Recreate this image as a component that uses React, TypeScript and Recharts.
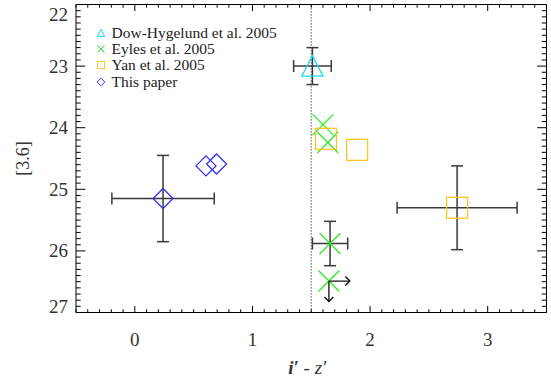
import {
  ScatterChart,
  Scatter,
  XAxis,
  YAxis,
  ErrorBar,
  ReferenceLine,
  Legend,
} from "recharts";

const FONT = "Liberation Serif, Times New Roman, DejaVu Serif, serif";

// Dow-Hygelund et al. 2005
const dowColor = [1.51];
const dowMag = [23.0];
const dowColorErr = [0.16];
const dowMagErr = [0.3];

// Eyles et al. 2005 (last one is a limit)
const eylesColor = [1.6, 1.64, 1.66, 1.65];
const eylesMag = [23.95, 24.24, 25.88, 26.49];
const eylesColorErr = [0, 0, 0.15, 0];
const eylesMagErr = [0, 0, 0.36, 0];
const eylesLimit = [false, false, false, true];

// Yan et al. 2005
const yanColor = [1.625, 1.89, 2.74];
const yanMag = [24.18, 24.36, 25.3];
const yanColorErr = [0, 0, 0.51];
const yanMagErr = [0, 0, 0.68];

// this paper
const paperColor = [0.24, 0.605, 0.695];
const paperMag = [25.15, 24.62, 24.59];
const paperColorErr = [0.435, 0, 0];
const paperMagErr = [0.7, 0, 0];

const seriesNames = ["Dow-Hygelund et al. 2005", "Eyles et al. 2005", "Yan et al. 2005", "This paper"];
const xMajorTicks = [0, 1, 2, 3];
const yMajorTicks = [22, 23, 24, 25, 26, 27];
const xDomain = [-0.5, 3.5];
const yDomain = [22, 27];
const dividerColor = 1.5;

// minor ticks every 0.1
const xTicks: number[] = [];
for (let i = -5; i <= 35; i++) xTicks.push(i / 10);
const yTicks: number[] = [];
for (let i = 220; i <= 270; i++) yTicks.push(i / 10);

const build = (xs: number[], ys: number[], exs: number[], eys: number[], lim?: boolean[]) =>
  xs.map((x, i) => ({ x, y: ys[i], ex: exs[i], ey: eys[i], limit: lim ? lim[i] : false }));

const dowData = build(dowColor, dowMag, dowColorErr, dowMagErr);
const eylesData = build(eylesColor, eylesMag, eylesColorErr, eylesMagErr, eylesLimit);
const yanData = build(yanColor, yanMag, yanColorErr, yanMagErr);
const paperData = build(paperColor, paperMag, paperColorErr, paperMagErr);

const CYAN = "#12e0f0";
const GREEN = "#2aee1e";
const YELLOW = "#ffc424";
const BLUE = "#3434f0";
const ERR = "#3a3a3a";

const isMajor = (v: number, majors: number[]) => majors.some((m) => Math.abs(m - v) < 1e-6);

const BottomTick = (props: any) => {
  const { x, y, payload } = props;
  const major = isMajor(payload.value, xMajorTicks);
  return (
    <g>
      <line x1={x} y1={y} x2={x} y2={y - (major ? 6.5 : 3.2)} stroke="#000" strokeWidth={1} />
      {major && (
        <text x={x} y={y + 33} textAnchor="middle" fontFamily={FONT} fontSize={19} fill="#333">
          {Math.round(payload.value)}
        </text>
      )}
    </g>
  );
};

const TopTick = (props: any) => {
  const { x, y, payload } = props;
  const major = isMajor(payload.value, xMajorTicks);
  return <line x1={x} y1={y} x2={x} y2={y + (major ? 6.5 : 3.2)} stroke="#000" strokeWidth={1} />;
};

const LeftTick = (props: any) => {
  const { x, y, payload } = props;
  const major = isMajor(payload.value, yMajorTicks);
  // end labels are pulled inside the axis range
  let shift = 6.5;
  if (payload.value === yDomain[0]) shift = 16.5;
  if (payload.value === yDomain[1]) shift = 0.5;
  return (
    <g>
      <line x1={x} y1={y} x2={x + (major ? 9.4 : 4.7)} y2={y} stroke="#000" strokeWidth={1} />
      {major && (
        <text x={x - 8} y={y + shift} textAnchor="end" fontFamily={FONT} fontSize={19} fill="#333">
          {Math.round(payload.value)}
        </text>
      )}
    </g>
  );
};

const RightTick = (props: any) => {
  const { x, y, payload } = props;
  const major = isMajor(payload.value, yMajorTicks);
  return <line x1={x} y1={y} x2={x - (major ? 9.4 : 4.7)} y2={y} stroke="#000" strokeWidth={1} />;
};

const Triangle = ({ cx, cy, s = 10.5, color = CYAN, w = 1.3 }: any) => (
  <polygon
    points={`${cx},${cy - s} ${cx + s},${cy + s * 0.95} ${cx - s},${cy + s * 0.95}`}
    fill="none"
    stroke={color}
    strokeWidth={w}
  />
);

const Cross = ({ cx, cy, s = 10.5, color = GREEN, w = 1.3 }: any) => (
  <g stroke={color} strokeWidth={w}>
    <line x1={cx - s} y1={cy - s} x2={cx + s} y2={cy + s} />
    <line x1={cx - s} y1={cy + s} x2={cx + s} y2={cy - s} />
  </g>
);

const Square = ({ cx, cy, s = 10.5, color = YELLOW, w = 1.3 }: any) => (
  <rect x={cx - s} y={cy - s} width={2 * s} height={2 * s} fill="none" stroke={color} strokeWidth={w} />
);

const Diamond = ({ cx, cy, s = 10, color = BLUE, w = 1.3 }: any) => (
  <polygon
    points={`${cx},${cy - s} ${cx + s},${cy} ${cx},${cy + s} ${cx - s},${cy}`}
    fill="none"
    stroke={color}
    strokeWidth={w}
  />
);

// Eyles point; limits get arrows pointing red-ward and faint-ward
const EylesShape = (props: any) => {
  const { cx, cy, payload } = props;
  return (
    <g>
      <Cross cx={cx} cy={cy} />
      {payload && payload.limit && (
        <g stroke="#111" strokeWidth={1.3} fill="none">
          <line x1={cx} y1={cy} x2={cx + 21} y2={cy} />
          <polyline points={`${cx + 16.5},${cy - 4.5} ${cx + 21},${cy} ${cx + 16.5},${cy + 4.5}`} />
          <line x1={cx} y1={cy} x2={cx} y2={cy + 20.5} />
          <polyline points={`${cx - 4.5},${cy + 16} ${cx},${cy + 20.5} ${cx + 4.5},${cy + 16}`} />
        </g>
      )}
    </g>
  );
};

const legendIcons: Record<string, (cx: number, cy: number) => any> = {
  [seriesNames[0]]: (cx, cy) => <Triangle cx={cx} cy={cy} s={3.7} w={1} />,
  [seriesNames[1]]: (cx, cy) => <Cross cx={cx} cy={cy} s={3.6} w={1} />,
  [seriesNames[2]]: (cx, cy) => <Square cx={cx} cy={cy} s={3.6} w={1} />,
  [seriesNames[3]]: (cx, cy) => <Diamond cx={cx} cy={cy} s={3.8} w={1} />,
};

const renderLegend = (props: any) => {
  const items = [...((props.payload || []) as any[])].sort(
    (a, b) => seriesNames.indexOf(a.value) - seriesNames.indexOf(b.value)
  );
  return (
    <div style={{ fontFamily: FONT, fontSize: 15.5, color: "#222" }}>
      {items.map((entry) => (
        <div key={entry.value} style={{ display: "flex", alignItems: "center", height: 16.4 }}>
          <svg width={10} height={10} style={{ overflow: "visible" }}>
            {legendIcons[entry.value]?.(5, 5)}
          </svg>
          <span style={{ marginLeft: 6, lineHeight: "16px" }}>{entry.value}</span>
        </div>
      ))}
    </div>
  );
};

const errorBars = () => [
  <ErrorBar key="ex" dataKey="ex" direction="x" width={6} stroke={ERR} strokeWidth={1.5} isAnimationActive={false} />,
  <ErrorBar key="ey" dataKey="ey" direction="y" width={6} stroke={ERR} strokeWidth={1.5} isAnimationActive={false} />,
];

export default function App() {
  return (
    <div style={{ position: "absolute", left: 0, top: 0, background: "#fff" }}>
      <ScatterChart width={551} height={379} margin={{ top: 0, right: 0, bottom: 0, left: 0 }}>
        <XAxis
          xAxisId="x"
          type="number"
          dataKey="x"
          domain={xDomain}
          ticks={xTicks}
          interval={0}
          allowDataOverflow
          tickLine={false}
          tickSize={0}
          tickMargin={0}
          tick={<BottomTick />}
          axisLine={{ stroke: "#000", strokeWidth: 1 }}
          height={66.5}
          label={(p: any) => {
            const vb = p.viewBox;
            return (
              <text
                x={vb.x + vb.width / 2 - 4}
                y={vb.y + vb.height - 5.5}
                textAnchor="middle"
                fontFamily={FONT}
                fontSize={19}
                fontStyle="italic"
                fill="#333"
              >
                <tspan fontWeight="bold">i′</tspan> - z′
              </text>
            );
          }}
        />
        <XAxis
          xAxisId="top"
          orientation="top"
          type="number"
          dataKey="x"
          domain={xDomain}
          ticks={xTicks}
          interval={0}
          allowDataOverflow
          tickLine={false}
          tickSize={0}
          tickMargin={0}
          tick={<TopTick />}
          axisLine={{ stroke: "#000", strokeWidth: 1 }}
          height={4.5}
        />
        <YAxis
          yAxisId="y"
          type="number"
          dataKey="y"
          reversed
          domain={yDomain}
          ticks={yTicks}
          interval={0}
          allowDataOverflow
          tickLine={false}
          tickSize={0}
          tickMargin={0}
          tick={<LeftTick />}
          axisLine={{ stroke: "#000", strokeWidth: 1 }}
          width={76}
          label={(p: any) => {
            const vb = p.viewBox;
            const cx = vb.x + 23;
            const cy = vb.y + vb.height / 2;
            return (
              <text
                x={cx}
                y={cy}
                transform={`rotate(-90 ${cx} ${cy})`}
                textAnchor="middle"
                dominantBaseline="central"
                fontFamily={FONT}
                fontSize={18}
                fill="#333"
              >
                [3.6]
              </text>
            );
          }}
        />
        <YAxis
          yAxisId="right"
          orientation="right"
          type="number"
          dataKey="y"
          reversed
          domain={yDomain}
          ticks={yTicks}
          interval={0}
          allowDataOverflow
          tickLine={false}
          tickSize={0}
          tickMargin={0}
          tick={<RightTick />}
          axisLine={{ stroke: "#000", strokeWidth: 1 }}
          width={4.5}
        />
        <ReferenceLine
          xAxisId="x"
          yAxisId="y"
          x={dividerColor}
          stroke="#555"
          strokeWidth={1.2}
          strokeDasharray="1.2 1.8"
        />
        <Legend
          layout="vertical"
          align="center"
          verticalAlign="middle"
          content={renderLegend}
          wrapperStyle={{ left: 95.5, top: 24.5, width: 200 }}
        />
        <Scatter
          name={seriesNames[0]}
          data={dowData}
          xAxisId="x"
          yAxisId="y"
          fill={CYAN}
          shape={(p: any) => <Triangle cx={p.cx} cy={p.cy} />}
          isAnimationActive={false}
        >
          {errorBars()}
        </Scatter>
        <Scatter
          name={seriesNames[1]}
          data={eylesData}
          xAxisId="x"
          yAxisId="y"
          fill={GREEN}
          shape={EylesShape}
          isAnimationActive={false}
        >
          {errorBars()}
        </Scatter>
        <Scatter
          name={seriesNames[2]}
          data={yanData}
          xAxisId="x"
          yAxisId="y"
          fill={YELLOW}
          shape={(p: any) => <Square cx={p.cx} cy={p.cy} />}
          isAnimationActive={false}
        >
          {errorBars()}
        </Scatter>
        <Scatter
          name={seriesNames[3]}
          data={paperData}
          xAxisId="x"
          yAxisId="y"
          fill={BLUE}
          shape={(p: any) => <Diamond cx={p.cx} cy={p.cy} />}
          isAnimationActive={false}
        >
          {errorBars()}
        </Scatter>
      </ScatterChart>
    </div>
  );
}
